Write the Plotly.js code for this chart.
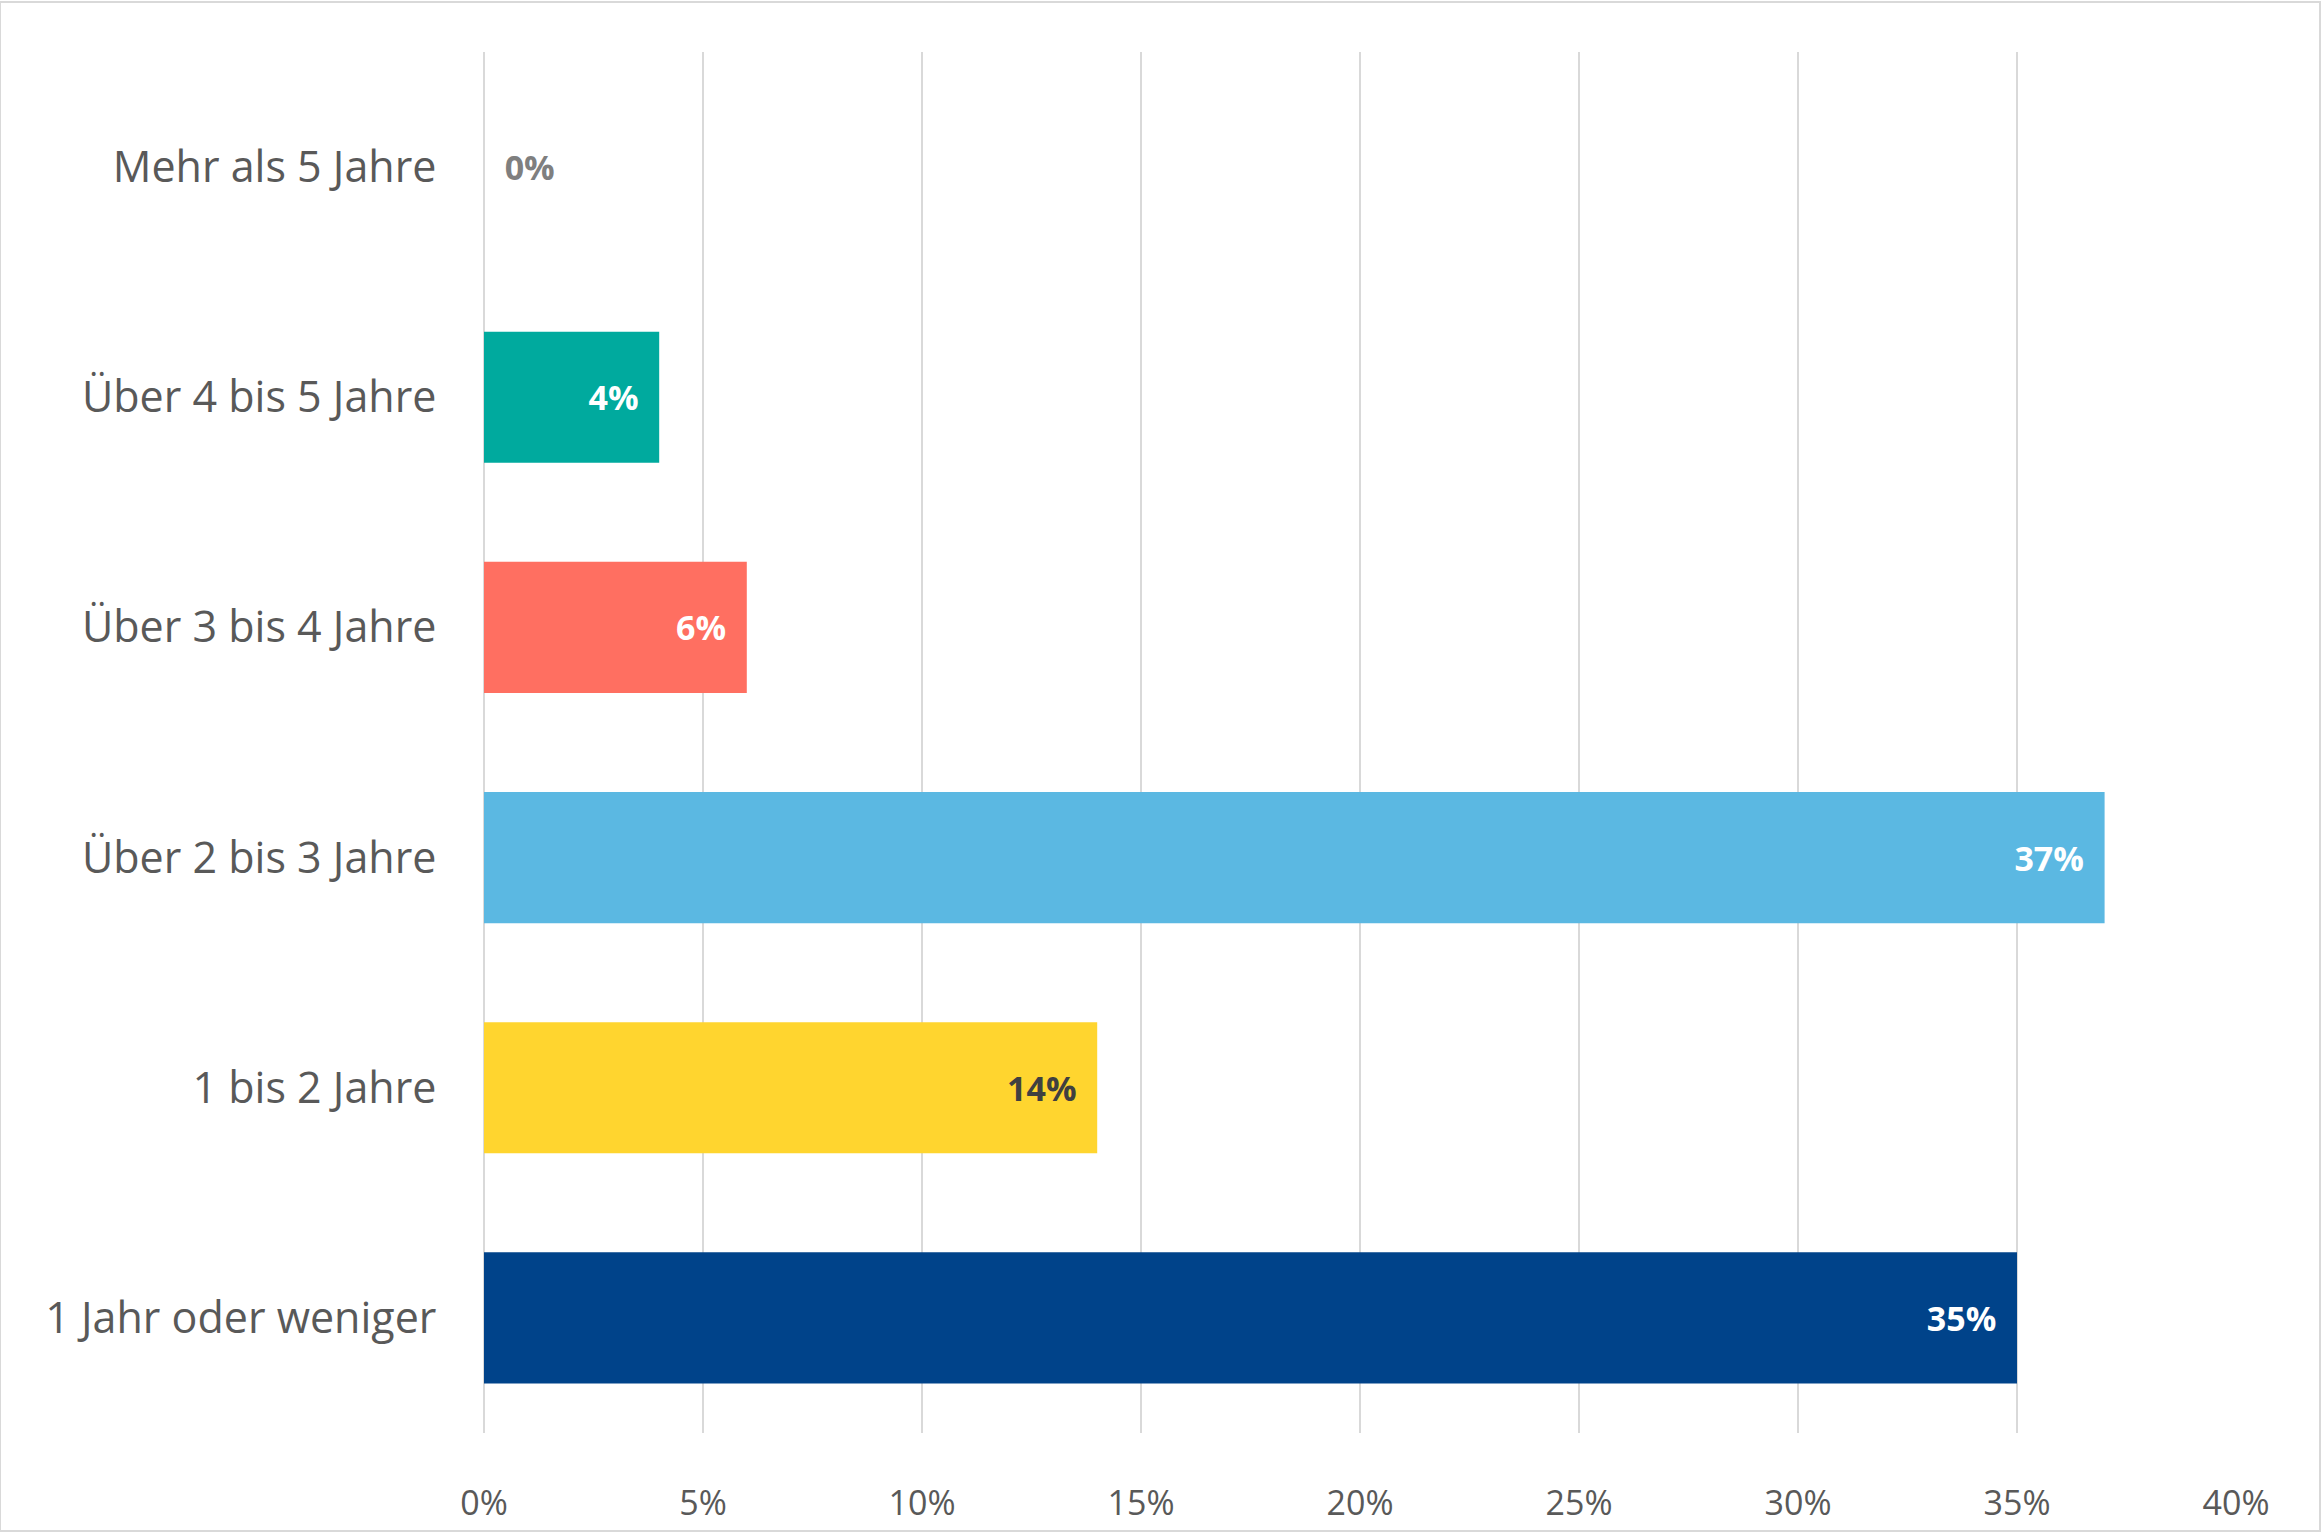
<!DOCTYPE html>
<html>
<head>
<meta charset="utf-8">
<script src="https://cdn.plot.ly/plotly-3.0.1.min.js"></script>
<style>html,body{margin:0;padding:0;background:#fff;}</style>
</head>
<body>
<div id="plotter" style="width:2323px;height:1533px;"></div>
<script>
var categories = ['1 Jahr oder weniger', '1 bis 2 Jahre', 'Über 2 bis 3 Jahre', 'Über 3 bis 4 Jahre', 'Über 4 bis 5 Jahre', 'Mehr als 5 Jahre'];
var values = [35, 14, 37, 6, 4, 0];
var barColors = ['#00438A', '#FFD52F', '#5BB8E2', '#FF6F61', '#00AA9E', '#7F7F7F'];
var labelColors = ['#FFFFFF', '#404040', '#FFFFFF', '#FFFFFF', '#FFFFFF', '#7F7F7F'];
var tickVals = [0, 5, 10, 15, 20, 25, 30, 35, 40];

var pad = '\u00A0\u00A0';
var plots = [{
    type: 'bar',
    orientation: 'h',
    y: categories,
    x: values,
    width: 0.57,
    marker: {color: barColors},
    text: values.map(v => v > 0 ? v + '%' + pad : pad + v + '%'),
    textposition: values.map(v => v > 0 ? 'inside' : 'outside'),
    insidetextanchor: 'end',
    textangle: 0,
    cliponaxis: false,
    textfont: {family: 'Open Sans, sans-serif', size: 34, color: labelColors, weight: 'bold'},
    hoverinfo: 'none'
}];

var layout = {
    showlegend: false,
    paper_bgcolor: '#FFFFFF',
    plot_bgcolor: '#FFFFFF',
    margin: {l: 484, r: 87, t: 52, b: 100},
    bargap: 0.43,
    xaxis: {
        range: [0, 40],
        tickvals: tickVals,
        ticktext: tickVals.map(v => v + '%'),
        showgrid: true,
        gridcolor: '#D9D9D9',
        gridwidth: 2,
        zeroline: true,
        zerolinecolor: '#D9D9D9',
        zerolinewidth: 2,
        showline: false,
        tickfont: {family: 'Open Sans, sans-serif', size: 34, color: '#595959'},
        ticks: 'outside',
        ticklen: 40,
        tickcolor: 'rgba(0,0,0,0)'
    },
    yaxis: {
        automargin: false,
        showgrid: false,
        zeroline: false,
        showline: false,
        ticks: 'outside',
        ticklen: 38,
        tickcolor: 'rgba(0,0,0,0)',
        tickfont: {family: 'Open Sans, sans-serif', size: 43, color: '#595959'}
    },
    shapes: [{
        type: 'rect', xref: 'paper', yref: 'paper',
        x0: -484 / (2323 - 484 - 87), x1: 1 + 84 / (2323 - 484 - 87),
        y0: -98 / (1533 - 52 - 100), y1: 1 + 50 / (1533 - 52 - 100),
        line: {color: '#D9D9D9', width: 2}
    }]
};

Plotly.newPlot('plotter', plots, layout, {staticPlot: true});
</script>
</body>
</html>
